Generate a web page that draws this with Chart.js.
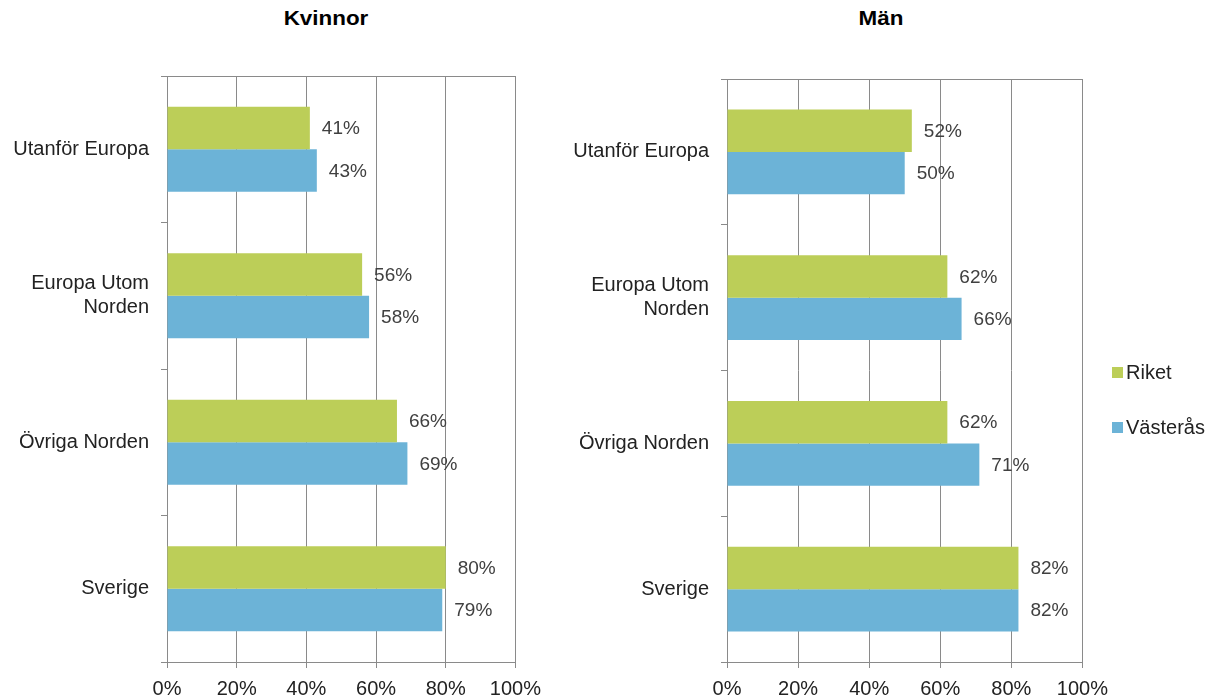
<!DOCTYPE html>
<html lang="sv">
<head>
    <meta charset="UTF-8">
    <title>Kvinnor / Män</title>
    <script src="https://cdn.jsdelivr.net/npm/chart.js"></script>
    <style>
        body { margin: 0; background: #fff; font-family: "Liberation Sans", Arial, sans-serif; }
        #wrap { position: relative; width: 1215px; height: 700px; overflow: hidden; }
        .title { position: absolute; top: 7px; font-weight: bold; font-size: 20px; color: #000; text-align: center; width: 200px; transform: scaleX(1.12); }
        .box { position: absolute; top: 0; height: 700px; }
        .legend { position: absolute; left: 1112px; font-size: 20px; color: #222; display: flex; align-items: center; }
        .legend span.sw { display: inline-block; width: 11px; height: 11px; margin-right: 3px; }
    </style>
</head>
<body>
<div id="wrap">
    <div class="title" style="left:226px">Kvinnor</div>
    <div class="title" style="left:781px">Män</div>
    <div class="box" style="left:0;width:550px"><canvas id="women"></canvas></div>
    <div class="box" style="left:560px;width:557px"><canvas id="men"></canvas></div>
    <div class="legend" style="top:361px"><span class="sw" style="background:#BCCE58"></span>Riket</div>
    <div class="legend" style="top:416px"><span class="sw" style="background:#6CB3D7"></span>Västerås</div>
</div>

<script>
    // data
    const categories = [['Utanför Europa'], ['Europa Utom', 'Norden'], ['Övriga Norden'], ['Sverige']];
    const seriesNames = ['Riket', 'Västerås'];
    const womenRiket = [41, 56, 66, 80];
    const womenVasteras = [43, 58, 69, 79];
    const menRiket = [52, 62, 62, 82];
    const menVasteras = [50, 66, 71, 82];
    const xTicks = [0, 20, 40, 60, 80, 100];

    const GREEN = '#BCCE58';
    const BLUE = '#6CB3D7';
    const GRID = '#8A8A8A';

    Chart.defaults.font.family = '"Liberation Sans", Arial, sans-serif';
    Chart.defaults.font.size = 20;
    Chart.defaults.color = '#222';

    // value labels at bar ends + frame around plot area
    const barLabels = {
        id: 'barLabels',
        afterDatasetsDraw(chart) {
            const ctx = chart.ctx;
            ctx.save();
            ctx.font = '19px "Liberation Sans", Arial, sans-serif';
            ctx.fillStyle = '#404040';
            ctx.textAlign = 'left';
            ctx.textBaseline = 'middle';
            chart.data.datasets.forEach((ds, i) => {
                chart.getDatasetMeta(i).data.forEach((bar, j) => {
                    ctx.fillText(ds.data[j] + '%', bar.x + 12, bar.y + 1);
                });
            });
            ctx.restore();
        },
        beforeDatasetsDraw(chart) {
            const a = chart.chartArea;
            const ctx = chart.ctx;
            ctx.save();
            ctx.strokeStyle = GRID;
            ctx.lineWidth = 1;
            ctx.strokeRect(Math.round(a.left) + 0.5, Math.round(a.top) + 0.5, Math.round(a.right - a.left), Math.round(a.bottom - a.top));
            ctx.restore();
        }
    };

    function makeChart(id, riket, vasteras, top, axisWidth) {
        return new Chart(document.getElementById(id), {
            type: 'bar',
            data: {
                labels: categories,
                datasets: [
                    { label: seriesNames[0], data: riket, backgroundColor: GREEN },
                    { label: seriesNames[1], data: vasteras, backgroundColor: BLUE }
                ]
            },
            options: {
                indexAxis: 'y',
                responsive: true,
                maintainAspectRatio: false,
                animation: false,
                layout: { padding: { top: top, right: 30, left: 0, bottom: 0 } },
                datasets: { bar: { categoryPercentage: 0.58, barPercentage: 1.0 } },
                scales: {
                    x: {
                        min: 0, max: 100,
                        afterBuildTicks: s => { s.ticks = xTicks.map(v => ({ value: v })); },
                        ticks: { callback: v => v + '%', padding: 9, maxRotation: 0 },
                        grid: { color: GRID, tickLength: 6 },
                        border: { color: GRID },
                        afterFit: s => { s.height = 38; }
                    },
                    y: {
                        grid: { drawOnChartArea: false, tickLength: 6, color: GRID, offset: true },
                        border: { color: GRID },
                        ticks: { padding: 12 },
                        afterFit: s => { s.width = axisWidth; }
                    }
                },
                plugins: {
                    legend: { display: false },
                    tooltip: { enabled: false }
                }
            },
            plugins: [barLabels]
        });
    }

    makeChart('women', womenRiket, womenVasteras, 76, 167);
    makeChart('men', menRiket, menVasteras, 79, 167);
</script>
</body>
</html>
